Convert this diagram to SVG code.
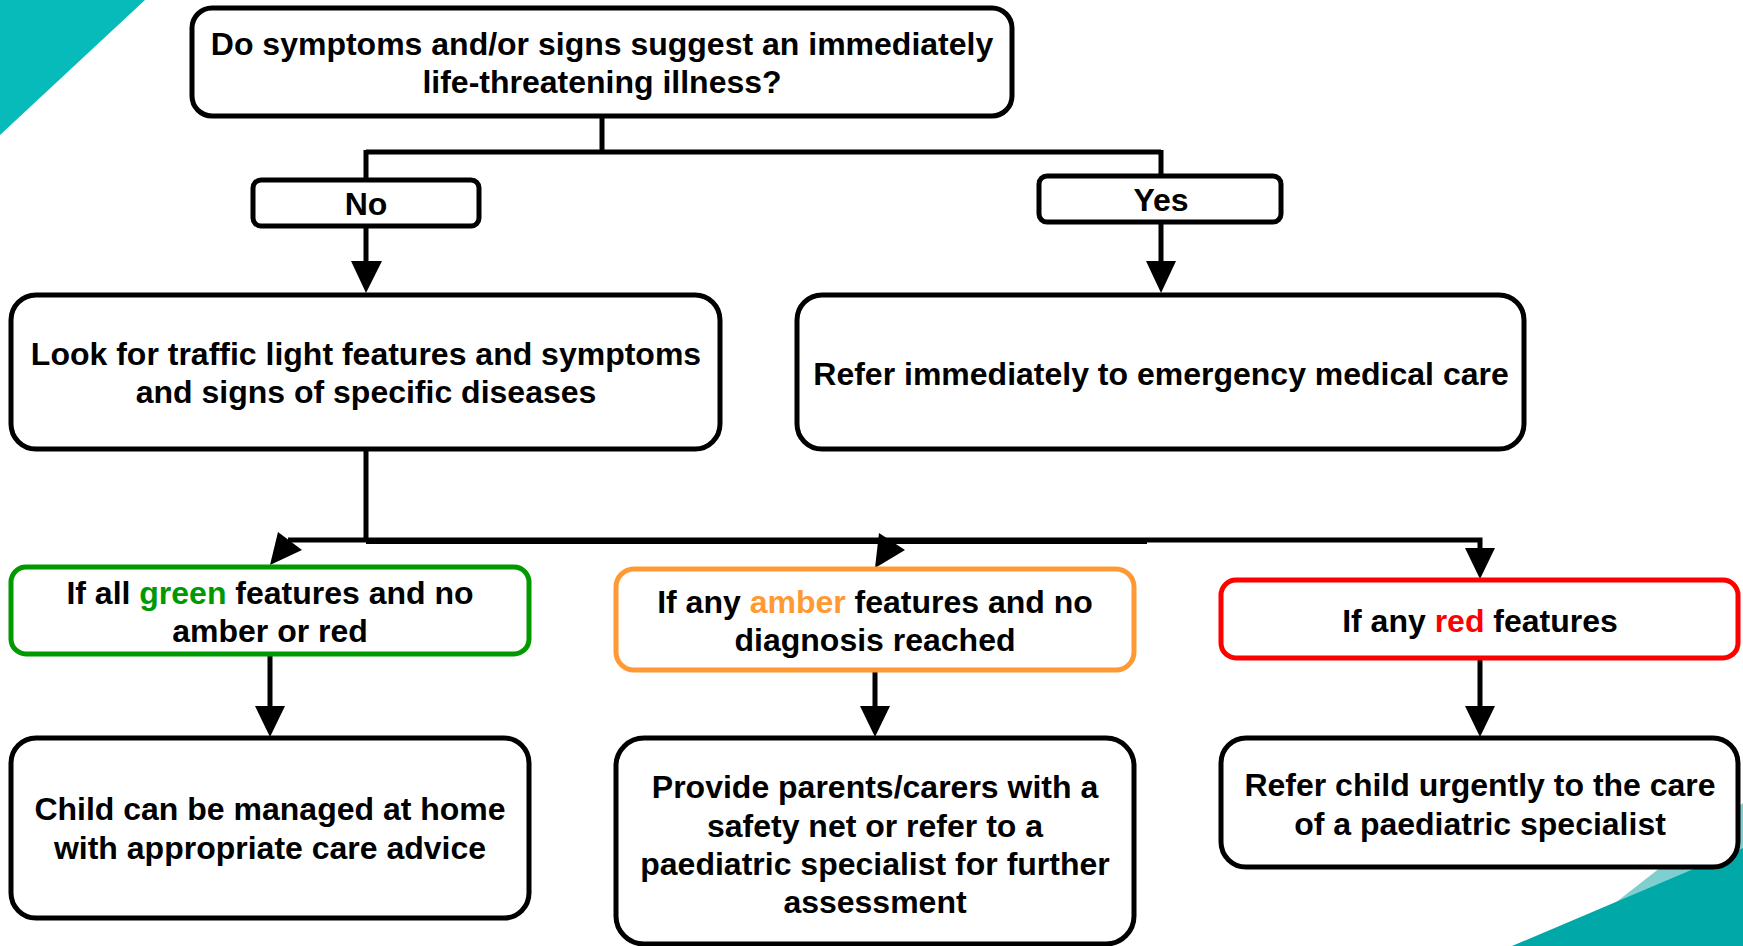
<svg xmlns="http://www.w3.org/2000/svg" width="1743" height="946" viewBox="0 0 1743 946">
<style>
.box{fill:#fff;stroke:#000;stroke-width:5}
.t{font-family:"Liberation Sans",Arial,sans-serif;font-weight:bold;font-size:32px;fill:#000;text-anchor:middle}
.ln{fill:none;stroke:#000;stroke-width:5}
.ah{fill:#000}
</style>
<rect width="1743" height="946" fill="#fff"/>
<polygon points="0,0 145,0 0,135" fill="#08BBBB"/>
<polygon points="1560,946 1743,803 1743,946" fill="#7FCFD0"/>
<polygon points="1512,946 1743,848 1743,946" fill="#00A9A8"/>

<g id="connectors">
<path class="ln" d="M602,116 V152 M366,152 H1161 M366,150 V180 M1161,150 V176"/>
<path class="ln" d="M366,226 V262 M1161,222 V262"/>
<polygon class="ah" points="351,261 382,261 366,293"/>
<polygon class="ah" points="1146,261 1176,261 1161,293"/>
<path class="ln" d="M366,449 V542 M366,540 H288 M366,540 H1480 V550"/>
<path class="ln" d="M366,541.5 H1147"/>
<polygon class="ah" points="278,532 302,550 270,565"/>
<polygon class="ah" points="879,533 905,550 875,568"/>
<polygon class="ah" points="1465,548 1495,548 1480,579"/>
<path class="ln" d="M270,654 V708 M875,670 V708 M1480,659 V708"/>
<polygon class="ah" points="255,706 285,706 270,737"/>
<polygon class="ah" points="860,706 890,706 875,737"/>
<polygon class="ah" points="1465,706 1495,706 1480,737"/>
</g>

<g id="q">
<rect class="box" x="192" y="8" width="820" height="108" rx="20"/>
<text class="t" x="602" y="55">Do symptoms and/or signs suggest an immediately</text>
<text class="t" x="602" y="93">life-threatening illness?</text>
</g>
<g id="no">
<rect class="box" x="253" y="180" width="226" height="46" rx="8"/>
<text class="t" x="366" y="215">No</text>
</g>
<g id="yes">
<rect class="box" x="1039" y="176" width="242" height="46" rx="8"/>
<text class="t" x="1161" y="211">Yes</text>
</g>
<g id="look">
<rect class="box" x="11" y="295" width="709" height="154" rx="25"/>
<text class="t" x="366" y="365">Look for traffic light features and symptoms</text>
<text class="t" x="366" y="403">and signs of specific diseases</text>
</g>
<g id="refer">
<rect class="box" x="797" y="295" width="727" height="154" rx="25"/>
<text class="t" x="1161" y="385">Refer immediately to emergency medical care</text>
</g>
<g id="green">
<rect class="box" x="11" y="567" width="518" height="87" rx="15" style="stroke:#009900"/>
<text class="t" x="270" y="604">If all <tspan fill="#009900">green</tspan> features and no</text>
<text class="t" x="270" y="642">amber or red</text>
</g>
<g id="amber">
<rect class="box" x="616" y="569" width="518" height="101" rx="18" style="stroke:#FF9933"/>
<text class="t" x="875" y="613">If any <tspan fill="#FF9933">amber</tspan> features and no</text>
<text class="t" x="875" y="651">diagnosis reached</text>
</g>
<g id="red">
<rect class="box" x="1221" y="580" width="517" height="78" rx="15" style="stroke:#FF0000"/>
<text class="t" x="1480" y="632">If any <tspan fill="#FF0000">red</tspan> features</text>
</g>
<g id="home">
<rect class="box" x="11" y="738" width="518" height="180" rx="25"/>
<text class="t" x="270" y="820">Child can be managed at home</text>
<text class="t" x="270" y="859">with appropriate care advice</text>
</g>
<g id="safety">
<rect class="box" x="616" y="738" width="518" height="206" rx="28"/>
<text class="t" x="875" y="798">Provide parents/carers with a</text>
<text class="t" x="875" y="837">safety net or refer to a</text>
<text class="t" x="875" y="875">paediatric specialist for further</text>
<text class="t" x="875" y="913">assessment</text>
</g>
<g id="urgent">
<rect class="box" x="1221" y="738" width="517" height="129" rx="25"/>
<text class="t" x="1480" y="796">Refer child urgently to the care</text>
<text class="t" x="1480" y="835">of a paediatric specialist</text>
</g>
</svg>
